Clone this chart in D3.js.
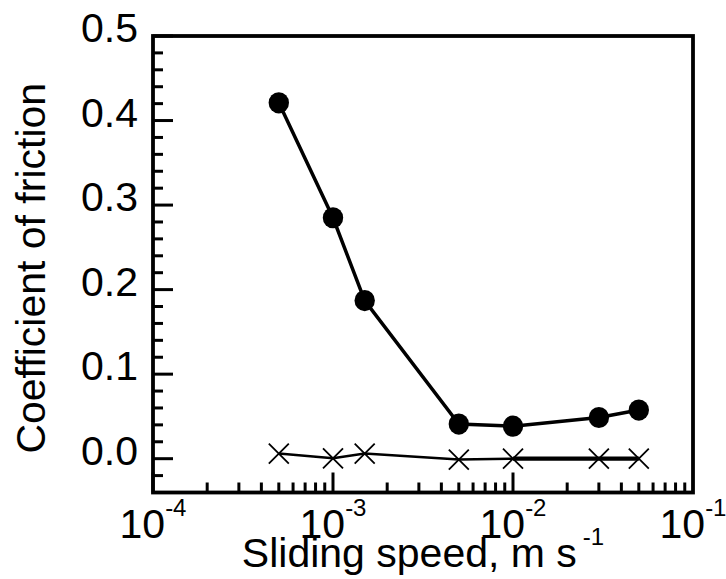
<!DOCTYPE html>
<html>
<head>
<meta charset="utf-8">
<script src="https://cdn.jsdelivr.net/npm/d3@7"></script>
<style>
  html, body { margin: 0; padding: 0; background: #fff; }
  svg { display: block; font-family: "Liberation Sans", Arial, sans-serif; }
</style>
</head>
<body>
<div id="chart"></div>
<script>
// Sliding speed (m/s) and friction values
const speeds = [5e-4, 1e-3, 1.5e-3, 5e-3, 1e-2, 3e-2, 5e-2];
const frictionDots = [0.421, 0.285, 0.187, 0.041, 0.0385, 0.0487, 0.0575];
const frictionCrosses = [0.006, 0.0005, 0.006, -0.001, 0.0, 0.0, 0.0];
const yTickValues = [0.0, 0.1, 0.2, 0.3, 0.4, 0.5];
const xTickExponents = [-4, -3, -2, -1];

const W = 726, H = 579;
const plot = { left: 153, right: 693, top: 36, bottom: 492.5 };

const svg = d3.select('#chart')
  .append('svg')
  .attr('width', W)
  .attr('height', H);

const x = d3.scaleLog().domain([1e-4, 1e-1]).range([plot.left, plot.right]);
const y = d3.scaleLinear().domain([-0.04, 0.5]).range([plot.bottom, plot.top]);

// Minor / major ticks on the left axis
const yMinor = d3.range(-0.04, 0.5001, 0.02).map(v => +v.toFixed(2));
svg.append('g')
  .selectAll('line')
  .data(yMinor)
  .join('line')
  .attr('x1', plot.left)
  .attr('x2', d => plot.left + (Math.abs(Math.round(d * 100) % 10) === 0 ? 20 : 10))
  .attr('y1', d => y(d))
  .attr('y2', d => y(d))
  .attr('stroke', '#000')
  .attr('stroke-width', 3);

// Minor / major ticks on the bottom axis
const xMinor = [];
[-4, -3, -2].forEach(e => {
  for (let m = 1; m <= 9; m++) xMinor.push({ v: m * Math.pow(10, e), major: m === 1 });
});
svg.append('g')
  .selectAll('line')
  .data(xMinor)
  .join('line')
  .attr('x1', d => x(d.v))
  .attr('x2', d => x(d.v))
  .attr('y1', plot.bottom)
  .attr('y2', d => plot.bottom - (d.major ? 20 : 10))
  .attr('stroke', '#000')
  .attr('stroke-width', 3);

// Frame
svg.append('rect')
  .attr('x', plot.left)
  .attr('y', plot.top)
  .attr('width', plot.right - plot.left)
  .attr('height', plot.bottom - plot.top)
  .attr('fill', 'none')
  .attr('stroke', '#000')
  .attr('stroke-width', 3.8);

// Y tick labels
svg.append('g')
  .selectAll('text')
  .data(yTickValues)
  .join('text')
  .attr('x', plot.left - 15)
  .attr('y', d => y(d) + 6)
  .attr('text-anchor', 'end')
  .attr('font-size', 41)
  .text(d => d3.format('.1f')(d));

// X tick labels: 10 with superscript exponent
const xl = svg.append('g')
  .selectAll('text')
  .data(xTickExponents)
  .join('text')
  .attr('x', d => x(Math.pow(10, d)))
  .attr('y', 538)
  .attr('text-anchor', 'middle')
  .attr('font-size', 41);
xl.append('tspan').text('10');
xl.append('tspan')
  .attr('font-size', 24)
  .attr('dy', -22)
  .text(d => String(d));

// Axis titles
const xt = svg.append('text')
  .attr('x', (plot.left + plot.right) / 2)
  .attr('y', 566.5)
  .attr('text-anchor', 'middle')
  .attr('font-size', 41);
xt.append('tspan').text('Sliding speed, m s');
xt.append('tspan').attr('font-size', 24).attr('dx', 6).attr('dy', -22).text('-1');

svg.append('text')
  .attr('transform', `translate(45, ${(plot.top + plot.bottom) / 2 + 4}) rotate(-90)`)
  .attr('text-anchor', 'middle')
  .attr('font-size', 41)
  .text('Coefficient of friction');

// Series with filled circles
const dots = speeds.map((s, i) => [s, frictionDots[i]]);
const line = d3.line().x(d => x(d[0])).y(d => y(d[1]));
svg.append('path')
  .datum(dots)
  .attr('d', line)
  .attr('fill', 'none')
  .attr('stroke', '#000')
  .attr('stroke-width', 3.5);
svg.append('g')
  .selectAll('ellipse')
  .data(dots)
  .join('ellipse')
  .attr('cx', d => x(d[0]))
  .attr('cy', d => y(d[1]))
  .attr('rx', 10.2)
  .attr('ry', 10.6)
  .attr('fill', '#000');

// Series with crosses
const crosses = speeds.map((s, i) => [s, frictionCrosses[i]]);
svg.append('path')
  .datum(crosses.slice(0, 5))
  .attr('d', line)
  .attr('fill', 'none')
  .attr('stroke', '#000')
  .attr('stroke-width', 2.5);
svg.append('path')
  .datum(crosses.slice(4))
  .attr('d', line)
  .attr('fill', 'none')
  .attr('stroke', '#000')
  .attr('stroke-width', 4.3);
const cs = 10;
svg.append('g')
  .selectAll('path')
  .data(crosses)
  .join('path')
  .attr('d', d => {
    const cx = x(d[0]), cy = y(d[1]);
    return `M${cx - cs},${cy - cs}L${cx + cs},${cy + cs}M${cx - cs},${cy + cs}L${cx + cs},${cy - cs}`;
  })
  .attr('stroke', '#000')
  .attr('stroke-width', 1.8)
  .attr('fill', 'none');
</script>
</body>
</html>
